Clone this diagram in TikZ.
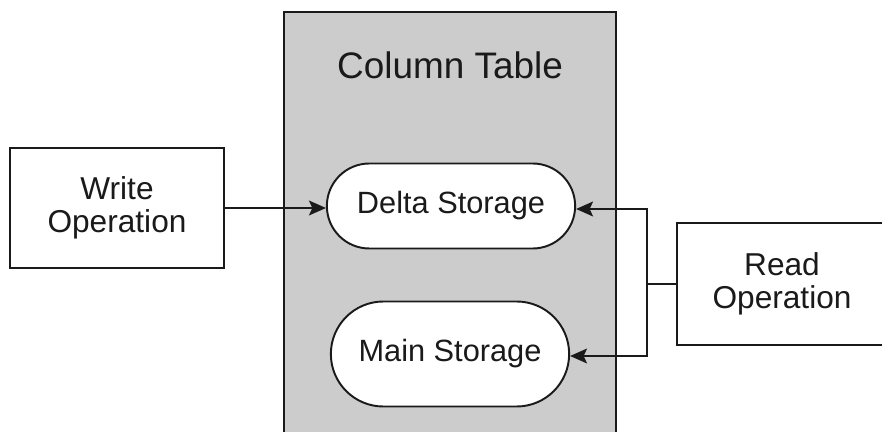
\documentclass[tikz,border=0pt]{standalone}
\usepackage{fontspec}
\setmainfont{Liberation Sans}
\usepackage{xcolor}
\usepackage{tikz}
\usetikzlibrary{positioning, shapes.misc, arrows.meta, calc}
\definecolor{tablegray}{HTML}{CCCCCC}
\definecolor{inkgray}{HTML}{1A1A1A}

\begin{document}
\begin{tikzpicture}[
  table/.style={
    draw=inkgray, line width=1.3pt, fill=tablegray,
    minimum width=6.64cm, minimum height=9.16cm, inner sep=0pt
  },
  opbox/.style={
    draw=inkgray, line width=1.2pt, fill=white, minimum width=4.28cm,
    minimum height=2.4cm, align=center, text=inkgray,
    font=\fontsize{18}{19}\selectfont
  },
  storage/.style={
    draw=inkgray, line width=1.1pt, fill=white, rounded rectangle,
    minimum width=5.2cm, minimum height=1.7cm, text=inkgray,
    font=\fontsize{17.5}{20}\selectfont
  },
  arrow/.style={-{Stealth[length=0.34cm,width=0.3cm,inset=0.07cm]}, line width=0.6pt, inkgray},
  title/.style={font=\fontsize{21}{24}\selectfont, text=inkgray}
]
\useasboundingbox (0,0) rectangle (17.64,-8.64);

\node[table] (coltable) at (9.0, -4.82) {};
\node[title] (tabletitle) at (9.0, -1.3) {Column Table};

\node[storage] (delta) at (9.02, -4.12) {Delta Storage};
\node[storage, minimum width=5.0cm, minimum height=2.1cm] (main) at (9.0, -7.08) {Main Storage};

\node[opbox] (write) at (2.34, -4.16) {Write\\Operation};
\node[opbox, minimum width=4.2cm, minimum height=2.44cm] (read) at (15.64, -5.68) {Read\\Operation};

% write path
\draw[arrow] (write.east) -- (write.east -| delta.west);

% read path splits to both storages
\coordinate (split) at (12.94, -5.68);
\draw[line width=0.6pt, inkgray] (read.west) -- (split);
\draw[arrow] (split) |- ($(delta.east)+(0,-0.06)$);
\draw[arrow] (split) |- ($(main.east)+(0,-0.04)$);

\end{tikzpicture}
\end{document}
